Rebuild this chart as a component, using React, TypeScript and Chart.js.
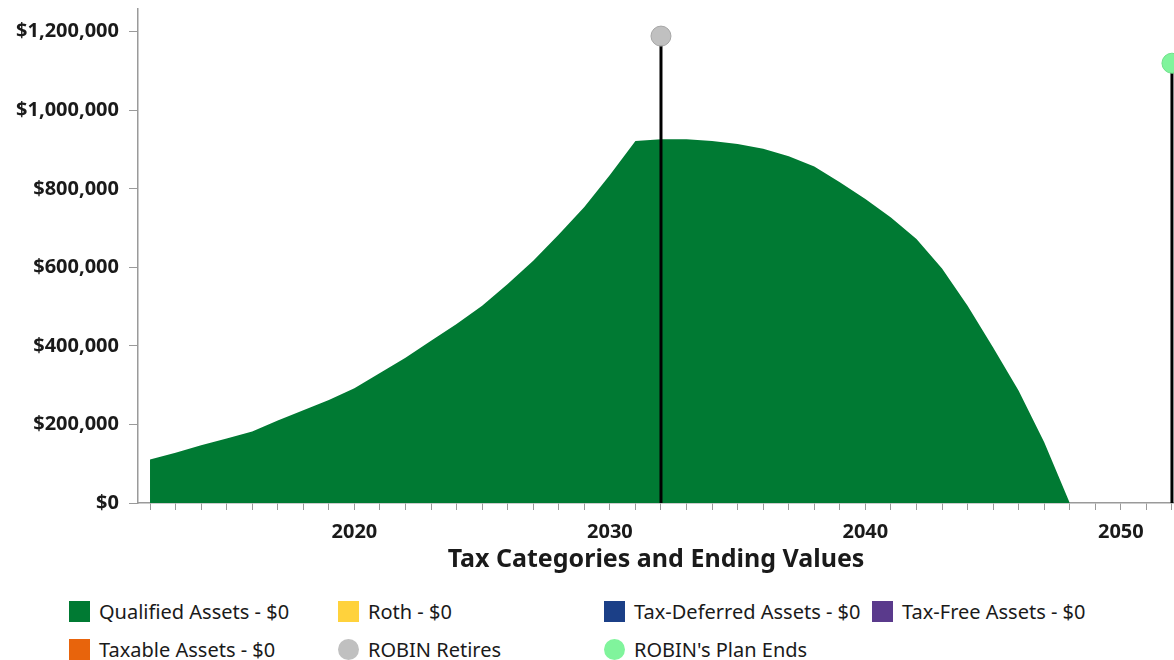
import React, { useEffect, useRef } from "react";
import { Chart, registerables } from "chart.js";

Chart.register(...registerables);

// ---- data ----
const years = [
  2012, 2013, 2014, 2015, 2016, 2017, 2018, 2019, 2020, 2021, 2022, 2023, 2024,
  2025, 2026, 2027, 2028, 2029, 2030, 2031, 2032, 2033, 2034, 2035, 2036, 2037,
  2038, 2039, 2040, 2041, 2042, 2043, 2044, 2045, 2046, 2047, 2048,
];
const qualifiedValues = [
  111000, 128000, 147000, 164000, 182000, 210000, 236000, 262000, 292000, 331000,
  370000, 413000, 456000, 502000, 558000, 617000, 684000, 754000, 835000, 922000,
  926000, 926000, 922000, 914000, 902000, 883000, 857000, 817000, 774000, 727000,
  672000, 597000, 502000, 396000, 286000, 155000, 0,
];
const retireYear = 2032;
const retireMarkerValue = 1189000;
const planEndYear = 2052;
const planEndMarkerValue = 1120000;

const yTickValues = [0, 200000, 400000, 600000, 800000, 1000000, 1200000];
const xLabelYears = [2020, 2030, 2040, 2050];
const xTickYears = [
  2012, 2013, 2014, 2015, 2016, 2017, 2018, 2019, 2020, 2021, 2022, 2023, 2024,
  2025, 2026, 2027, 2028, 2029, 2030, 2031, 2032, 2033, 2034, 2035, 2036, 2037,
  2038, 2039, 2040, 2041, 2042, 2043, 2044, 2045, 2046, 2047, 2048, 2049, 2050,
  2051, 2052,
];

const legendLabels = [
  "Qualified Assets - $0",
  "Roth - $0",
  "Tax-Deferred Assets - $0",
  "Tax-Free Assets - $0",
  "Taxable Assets - $0",
  "ROBIN Retires",
  "ROBIN's Plan Ends",
];
const legendColors = [
  "#007a33",
  "#ffd23c",
  "#1b3f87",
  "#5a3a8c",
  "#e8640c",
  "#c0c0c0",
  "#80f49c",
];
const legendShapes = ["box", "box", "box", "box", "box", "circle", "circle"];

const FONT = "'Noto Sans', 'Open Sans', sans-serif";
const TEXT = "#1a1a1a";
const AXIS = "#9a9a9a";

export default function App() {
  const canvasRef = useRef<HTMLCanvasElement | null>(null);

  useEffect(() => {
    if (!canvasRef.current) return;
    const chart = new Chart(canvasRef.current, {
      type: "line",
      data: {
        datasets: [
          {
            label: "ROBIN Retires",
            data: [
              { x: retireYear, y: 0 },
              { x: retireYear, y: retireMarkerValue },
            ],
            borderColor: "#000000",
            borderWidth: 3,
            pointRadius: [0, 10],
            pointBackgroundColor: "#c0c0c0",
            pointBorderColor: "#a6a6a6",
            pointBorderWidth: 1,
            fill: false,
            order: 0,
            clip: false,
          },
          {
            label: "ROBIN's Plan Ends",
            data: [
              { x: planEndYear, y: 0 },
              { x: planEndYear, y: planEndMarkerValue },
            ],
            borderColor: "#000000",
            borderWidth: 3,
            pointRadius: [0, 10],
            pointBackgroundColor: "#80f49c",
            pointBorderColor: "#6fe08a",
            pointBorderWidth: 1,
            fill: false,
            order: 0,
            clip: false,
          },
          {
            label: "Qualified Assets",
            data: years.map((y, i) => ({ x: y, y: qualifiedValues[i] })),
            borderWidth: 0,
            borderColor: "#007a33",
            backgroundColor: "#007a33",
            pointRadius: 0,
            fill: "origin",
            tension: 0,
            order: 10,
          },
        ],
      },
      options: {
        animation: false,
        responsive: false,
        events: [],
        layout: {
          autoPadding: false,
          padding: { top: 9, left: 0, right: 0, bottom: 10 },
        },
        plugins: {
          legend: { display: false },
          tooltip: { enabled: false },
        },
        scales: {
          x: {
            type: "linear",
            min: 2011.53,
            max: 2052.08,
            afterBuildTicks: (scale: any) => {
              scale.ticks = xTickYears.map((v) => ({ value: v }));
            },
            afterFit: (scale: any) => {
              scale.height = 72;
              scale.paddingLeft = 0;
              scale.paddingRight = 0;
            },
            ticks: {
              autoSkip: false,
              maxRotation: 0,
              padding: 10,
              color: TEXT,
              font: { family: FONT, size: 20, weight: "bold" },
              callback: (v: any) =>
                xLabelYears.includes(Number(v)) ? String(v) : "",
            },
            grid: {
              display: true,
              drawOnChartArea: false,
              drawTicks: true,
              tickLength: 7,
              color: AXIS,
              lineWidth: 1,
            },
            border: { display: true, color: AXIS, width: 1.5 },
            title: {
              display: true,
              text: "Tax Categories and Ending Values",
              color: TEXT,
              font: { family: FONT, size: 25, weight: "bold" },
              padding: { top: 0, bottom: 0 },
            },
          },
          y: {
            type: "linear",
            min: 0,
            max: 1258000,
            afterBuildTicks: (scale: any) => {
              scale.ticks = yTickValues.map((v) => ({ value: v }));
            },
            afterFit: (scale: any) => {
              scale.width = 138;
              scale.paddingTop = 0;
              scale.paddingBottom = 0;
            },
            ticks: {
              padding: 10,
              color: TEXT,
              font: { family: FONT, size: 20, weight: "bold" },
              callback: (v: any) => "$" + Number(v).toLocaleString("en-US"),
            },
            grid: {
              display: true,
              drawOnChartArea: false,
              drawTicks: true,
              tickLength: 9,
              color: AXIS,
              lineWidth: 1,
            },
            border: { display: true, color: AXIS, width: 1.5 },
          },
        },
      },
    });
    return () => chart.destroy();
  }, []);

  const colLeft = [69, 338, 604, 872];
  const rowTop = [599, 637];

  return (
    <div
      style={{
        position: "fixed",
        left: 0,
        top: 0,
        width: 1174,
        height: 660,
        background: "#ffffff",
        overflow: "hidden",
      }}
    >
      <canvas
        ref={canvasRef}
        width={1174}
        height={585}
        style={{ position: "absolute", left: 0, top: 0, width: 1174, height: 585 }}
      />
      {legendLabels.map((label, i) => {
        const col = i % 4;
        const row = Math.floor(i / 4);
        return (
          <div
            key={label}
            style={{
              position: "absolute",
              left: colLeft[col],
              top: rowTop[row],
              height: 24,
              display: "flex",
              alignItems: "center",
              whiteSpace: "nowrap",
              fontFamily: FONT,
              fontSize: 20,
              color: TEXT,
            }}
          >
            <span
              style={{
                display: "inline-block",
                width: 21,
                height: 21,
                marginRight: 9,
                background: legendColors[i],
                borderRadius: legendShapes[i] === "circle" ? "50%" : 0,
              }}
            />
            <span>{label}</span>
          </div>
        );
      })}
    </div>
  );
}
